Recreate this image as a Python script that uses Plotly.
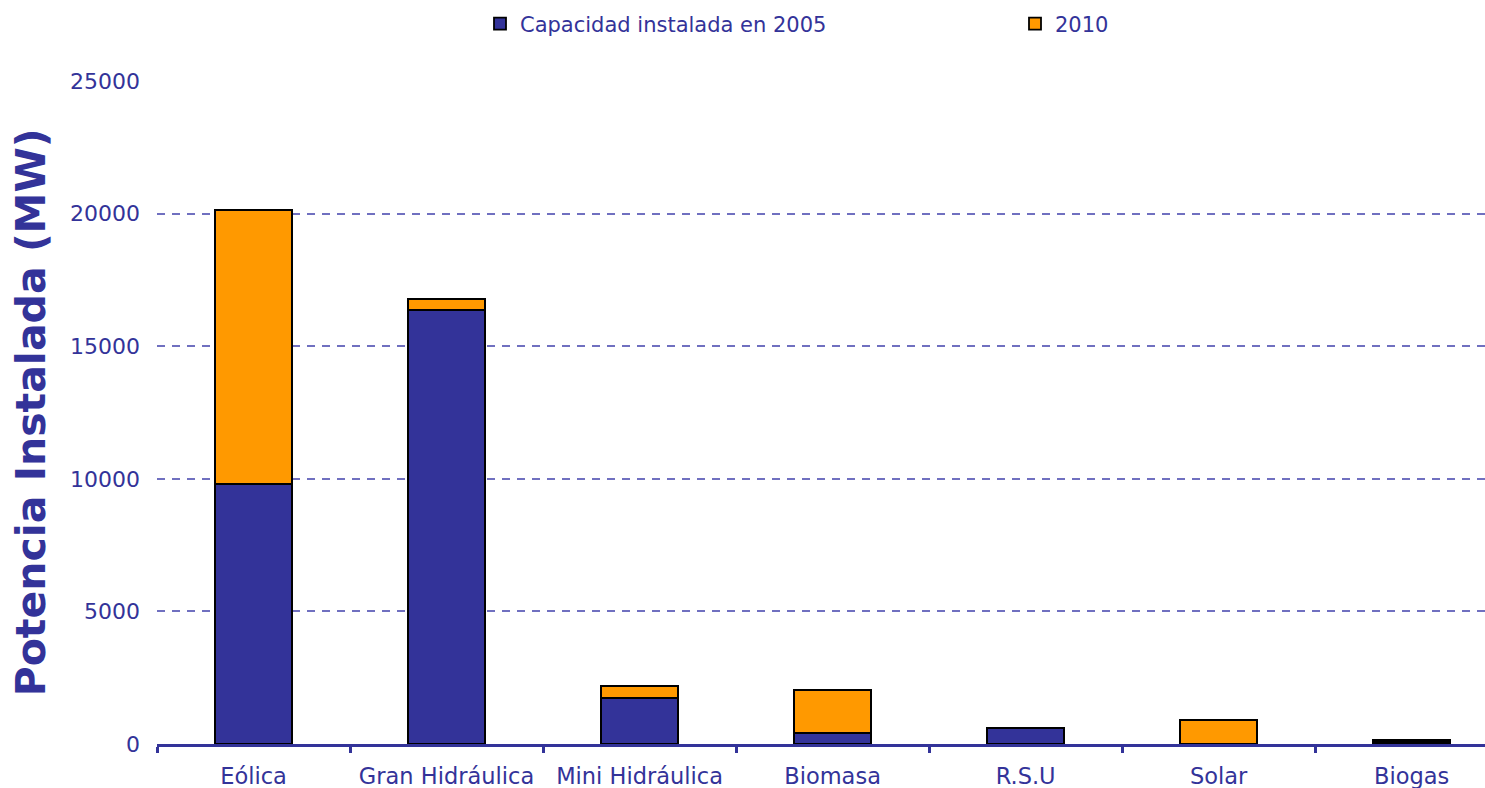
import plotly.graph_objects as go

categories = ["Eólica", "Gran Hidráulica", "Mini Hidráulica", "Biomasa", "R.S.U", "Solar", "Biogas"]
cap_2005 = [9800, 16370, 1730, 410, 600, 20, 70]
inc_2010 = [10350, 410, 460, 1630, 10, 880, 90]
y_ticks = [0, 5000, 10000, 15000, 20000, 25000]

BLUE = "#333399"
ORANGE = "#FF9900"
FONT = "DejaVu Sans, Verdana, sans-serif"

fig = go.Figure()
fig.add_trace(go.Bar(x=categories, y=cap_2005, name="Capacidad instalada en 2005",
                     legendwidth=490,
                     marker=dict(color=BLUE, line=dict(color="black", width=1.8))))
fig.add_trace(go.Bar(x=categories, y=inc_2010, name="2010",
                     legendwidth=80,
                     marker=dict(color=ORANGE, line=dict(color="black", width=1.8))))

fig.update_layout(
    barmode="stack",
    bargap=0.6,
    width=1485, height=788,
    margin=dict(l=157, r=0, t=81, b=44, autoexpand=False),
    paper_bgcolor="white", plot_bgcolor="white",
    font=dict(family=FONT, color=BLUE, size=20),
    showlegend=True,
    legend=dict(orientation="h", xref="container", yref="container",
                x=480 / 1485, y=1 - 24 / 788, xanchor="left", yanchor="middle",
                traceorder="normal",
                font=dict(size=21, color=BLUE), itemclick=False),
    xaxis=dict(range=[-0.5, 6.38], showline=True, linecolor=BLUE, linewidth=3,
               ticks="outside", tickson="boundaries", ticklen=6, tickwidth=3, tickcolor=BLUE,
               ticklabelstandoff=10,
               tickfont=dict(size=22.5, color=BLUE), showgrid=False, zeroline=False),
    yaxis=dict(range=[0, 25000], tickvals=y_ticks, ticktext=[str(v) for v in y_ticks],
               showline=False, showgrid=True, gridcolor="#7070c0", griddash="8px,7px", gridwidth=1.5,
               zeroline=False, tickfont=dict(size=22, color=BLUE), ticklabelstandoff=16,
               title=dict(text="<b>Potencia Instalada (MW)</b>", font=dict(size=41, color=BLUE),
                          standoff=11)),
)

fig.write_html("out.html", config={"displayModeBar": False})

# remove default page margins so the figure sits at the window's origin
with open("out.html", "r", encoding="utf-8") as f:
    html = f.read()
html = html.replace("<head>", "<head><style>html,body{margin:0;padding:0;overflow:hidden;}</style>", 1)
with open("out.html", "w", encoding="utf-8") as f:
    f.write(html)
